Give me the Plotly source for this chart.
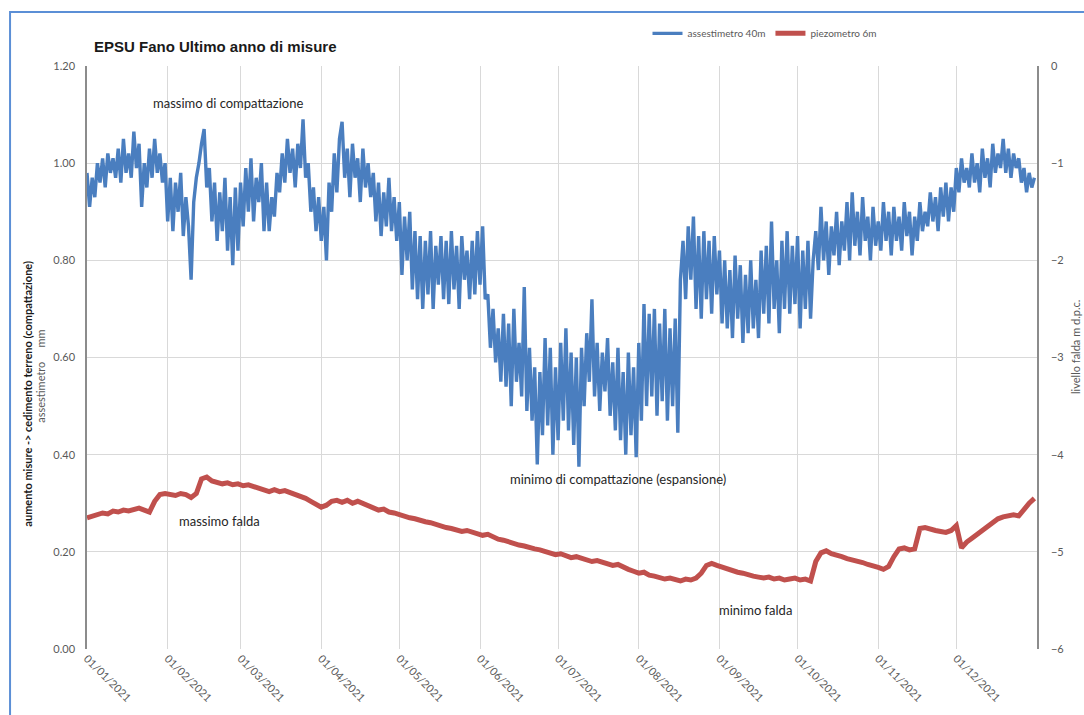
import pandas as pd
import plotly.graph_objects as go

# assestimetro 40m, one reading per day from 01/01/2021 (mm)
assestimetro = [
    0.98, 0.91, 0.97, 0.93, 1.00, 0.96, 1.01, 0.95, 1.02, 0.98,
    1.01, 0.97, 1.03, 0.96, 1.05, 0.98, 1.02, 0.97, 1.065, 0.99,
    1.04, 0.91, 1.00, 0.95, 1.03, 0.97, 1.05, 0.98, 1.02, 0.96,
    1.00, 0.88, 0.97, 0.86, 0.96, 0.90, 0.98, 0.85, 0.93, 0.87,
    0.76, 0.92, 0.97, 1.00, 1.04, 1.07, 0.95, 0.99, 0.88, 0.96,
    0.84, 0.94, 0.86, 0.97, 0.82, 0.93, 0.79, 0.95, 0.82, 0.96,
    0.87, 0.99, 0.90, 1.01, 0.88, 0.97, 0.92, 1.00, 0.86, 0.96,
    0.86, 0.93, 0.89, 0.98, 0.94, 1.02, 0.96, 1.05, 0.98, 1.03,
    0.95, 1.04, 0.99, 1.09, 0.97, 1.00, 0.90, 0.95, 0.86, 0.93,
    0.84, 0.91, 0.80, 0.96, 0.90, 1.02, 0.94, 1.05, 1.085, 0.97,
    1.03, 0.93, 1.04, 0.97, 1.01, 0.92, 1.03, 0.95, 1.00, 0.93,
    0.98, 0.88, 0.96, 0.85, 0.94, 0.87, 0.97, 0.86, 0.93, 0.84,
    0.92, 0.77, 0.89, 0.80, 0.90, 0.74, 0.86, 0.72, 0.85, 0.70,
    0.84, 0.73, 0.86, 0.70, 0.83, 0.75, 0.85, 0.72, 0.84, 0.71,
    0.86, 0.74, 0.83, 0.70, 0.85, 0.76, 0.82, 0.72, 0.84, 0.73,
    0.86, 0.75, 0.87, 0.72, 0.73, 0.62, 0.70, 0.59, 0.66, 0.55,
    0.69, 0.54, 0.67, 0.50, 0.70, 0.55, 0.63, 0.52, 0.745, 0.49,
    0.62, 0.47, 0.58, 0.38, 0.57, 0.44, 0.64, 0.46, 0.62, 0.40,
    0.58, 0.43, 0.63, 0.47, 0.66, 0.45, 0.61, 0.42, 0.60, 0.375,
    0.62, 0.50, 0.65, 0.55, 0.72, 0.52, 0.63, 0.49, 0.61, 0.53,
    0.64, 0.48, 0.59, 0.45, 0.62, 0.43, 0.57, 0.40, 0.61, 0.44,
    0.58, 0.395, 0.63, 0.47, 0.71, 0.50, 0.69, 0.52, 0.70, 0.48,
    0.67, 0.51, 0.70, 0.47, 0.66, 0.50, 0.68, 0.445, 0.76, 0.84,
    0.72, 0.87, 0.76, 0.89, 0.70, 0.85, 0.68, 0.86, 0.72, 0.84,
    0.69, 0.85, 0.73, 0.82, 0.67, 0.80, 0.66, 0.78, 0.64, 0.81,
    0.68, 0.79, 0.63, 0.77, 0.65, 0.80, 0.66, 0.76, 0.64, 0.82,
    0.69, 0.83, 0.67, 0.88, 0.70, 0.80, 0.65, 0.84, 0.70, 0.86,
    0.69, 0.83, 0.71, 0.85, 0.66, 0.82, 0.70, 0.84, 0.68, 0.80,
    0.86, 0.78, 0.91, 0.80, 0.88, 0.77, 0.87, 0.81, 0.90, 0.79,
    0.88, 0.82, 0.92, 0.80, 0.94, 0.83, 0.90, 0.81, 0.93, 0.84,
    0.89, 0.80, 0.91, 0.83, 0.88, 0.82, 0.92, 0.84, 0.90, 0.81,
    0.91, 0.84, 0.89, 0.82, 0.92, 0.85, 0.90, 0.81, 0.89, 0.84,
    0.92, 0.86, 0.90, 0.87, 0.94, 0.88, 0.93, 0.86, 0.95, 0.89,
    0.96, 0.88, 0.95, 0.90, 0.99, 0.94, 1.01, 0.96, 0.99, 0.95,
    1.02, 0.96, 1.00, 0.94, 1.03, 0.97, 1.01, 0.95, 1.04, 0.98,
    1.02, 0.99, 1.05, 0.98, 1.03, 0.97, 1.02, 0.99, 1.01, 0.96,
    0.99, 0.94, 0.98, 0.95, 0.97,
]

# piezometro 6m, one reading every 2 days (livello falda, m d.p.c.)
piezometro = [
    -4.65, -4.63, -4.62, -4.60, -4.61, -4.58, -4.59, -4.57, -4.58, -4.56,
    -4.55, -4.57, -4.59, -4.48, -4.41, -4.40, -4.41, -4.42, -4.40, -4.41,
    -4.44, -4.40, -4.25, -4.23, -4.27, -4.28, -4.30, -4.29, -4.31, -4.30,
    -4.32, -4.31, -4.33, -4.34, -4.36, -4.38, -4.36, -4.38, -4.37, -4.39,
    -4.40, -4.42, -4.45, -4.48, -4.51, -4.54, -4.52, -4.48, -4.47, -4.49,
    -4.47, -4.50, -4.48, -4.50, -4.53, -4.55, -4.57, -4.56, -4.59, -4.60,
    -4.62, -4.63, -4.65, -4.66, -4.68, -4.69, -4.70, -4.72, -4.73, -4.75,
    -4.76, -4.77, -4.79, -4.78, -4.80, -4.82, -4.83, -4.82, -4.85, -4.87,
    -4.88, -4.90, -4.91, -4.93, -4.94, -4.96, -4.97, -4.98, -5.00, -5.01,
    -5.03, -5.02, -5.04, -5.06, -5.05, -5.07, -5.08, -5.10, -5.09, -5.11,
    -5.12, -5.14, -5.13, -5.16, -5.18, -5.20, -5.22, -5.21, -5.24, -5.25,
    -5.26, -5.28, -5.27, -5.29, -5.30, -5.28, -5.29, -5.27, -5.22, -5.14,
    -5.12, -5.14, -5.16, -5.18, -5.19, -5.21, -5.22, -5.24, -5.25, -5.26,
    -5.27, -5.26, -5.28, -5.27, -5.29, -5.28, -5.27, -5.29, -5.28, -5.30,
    -5.10, -5.01, -4.99, -5.02, -5.03, -5.05, -5.07, -5.08, -5.10, -5.11,
    -5.13, -5.14, -5.16, -5.18, -5.15, -5.05, -4.97, -4.96, -4.98, -4.97,
    -4.76, -4.75, -4.77, -4.78, -4.79, -4.80, -4.78, -4.73, -4.96, -4.90,
    -4.86, -4.82, -4.78, -4.75, -4.70, -4.66, -4.64, -4.63, -4.62, -4.63,
    -4.56, -4.50, -4.45,
]

date_ass = pd.date_range("2021-01-01", periods=len(assestimetro), freq="D")
date_piez = pd.date_range("2021-01-01", periods=len(piezometro), freq="2D")

FONT = "Lato"
GRAY = "#595959"

fig = go.Figure()
fig.add_trace(go.Scatter(
    x=date_ass, y=assestimetro,
    mode="lines", name="assestimetro 40m",
    line=dict(color="#4a7ebf", width=3.4),
))
fig.add_trace(go.Scatter(
    x=date_piez, y=piezometro,
    mode="lines", name="piezometro 6m", yaxis="y2",
    line=dict(color="#c0504d", width=5),
))

fig.update_layout(
    width=1084, height=715,
    paper_bgcolor="white", plot_bgcolor="white",
    font=dict(family=FONT, color=GRAY, size=11),
    margin=dict(l=87, r=47, t=66, b=66, autoexpand=False),
    showlegend=True,
    legend=dict(
        orientation="h", x=0.59, y=1.056, xanchor="left", yanchor="middle",
        font=dict(size=10, color=GRAY), bgcolor="rgba(0,0,0,0)",
        itemwidth=30, tracegroupgap=0,
    ),
    xaxis=dict(
        type="date", range=["2021-01-01", "2022-01-01"],
        tickvals=pd.date_range("2021-01-01", "2021-12-01", freq="MS"),
        tickformat="%d/%m/%Y", tickangle=45,
        showgrid=True, gridcolor="#d9d9d9", gridwidth=1,
        showline=False, zeroline=False, ticks="",
        tickfont=dict(size=11, color=GRAY),
    ),
    yaxis=dict(
        range=[0, 1.2], dtick=0.2, tickformat=".2f",
        showgrid=True, gridcolor="#d9d9d9", gridwidth=1,
        showline=True, linecolor="#8c8c8c", linewidth=1.5,
        zeroline=False, ticks="", ticklabelstandoff=8,
        tickfont=dict(size=11, color=GRAY),
    ),
    yaxis2=dict(
        range=[-6, 0], dtick=1, overlaying="y", side="right",
        showgrid=False, showline=True, linecolor="#8c8c8c", linewidth=1.5,
        zeroline=False, ticks="", ticklabelstandoff=10,
        tickfont=dict(size=11, color=GRAY),
    ),
    shapes=[dict(
        type="rect", xref="paper", yref="paper",
        x0=-0.081, x1=1.2, y0=-0.3, y1=1.0926,
        line=dict(color="#5b8fd6", width=2), layer="below",
    )],
)

# title and text notes
fig.add_annotation(
    text="<b>EPSU Fano Ultimo anno di misure</b>",
    xref="paper", yref="paper", x=0.005, y=1.034,
    xanchor="left", yanchor="middle", showarrow=False,
    font=dict(family="Liberation Sans", size=15, color="#1a1a1a"),
)
notes = [
    ("massimo di compattazione", "2021-02-24", 1.124),
    ("minimo di compattazione (espansione)", "2021-07-24", 0.35),
    ("massimo falda", "2021-02-21", 0.263),
    ("minimo falda", "2021-09-15", 0.08),
]
for txt, xd, yv in notes:
    fig.add_annotation(
        text=txt, x=xd, y=yv, xref="x", yref="y", showarrow=False,
        font=dict(family=FONT, size=13, color="#262626"),
    )

# axis titles
fig.add_annotation(
    text="<b>aumento misure -> cedimento terreno (compattazione)</b>",
    xref="paper", yref="paper", x=-0.0621, y=0.438, textangle=-90,
    showarrow=False, xanchor="center", yanchor="middle",
    font=dict(family=FONT, size=11, color="#1a1a1a"),
)
fig.add_annotation(
    text="assestimetro&nbsp;&nbsp;&nbsp;&nbsp;&nbsp;mm",
    xref="paper", yref="paper", x=-0.0484, y=0.467, textangle=-90,
    showarrow=False, xanchor="center", yanchor="middle",
    font=dict(family=FONT, size=11, color=GRAY),
)
fig.add_annotation(
    text="livello falda m d.p.c.",
    xref="paper", yref="paper", x=1.04, y=0.518, textangle=-90,
    showarrow=False, xanchor="center", yanchor="middle",
    font=dict(family=FONT, size=11, color=GRAY),
)

fig.write_html(
    "out.html",
    config={"displayModeBar": False},
    post_script="document.body.style.margin='0';",
)
